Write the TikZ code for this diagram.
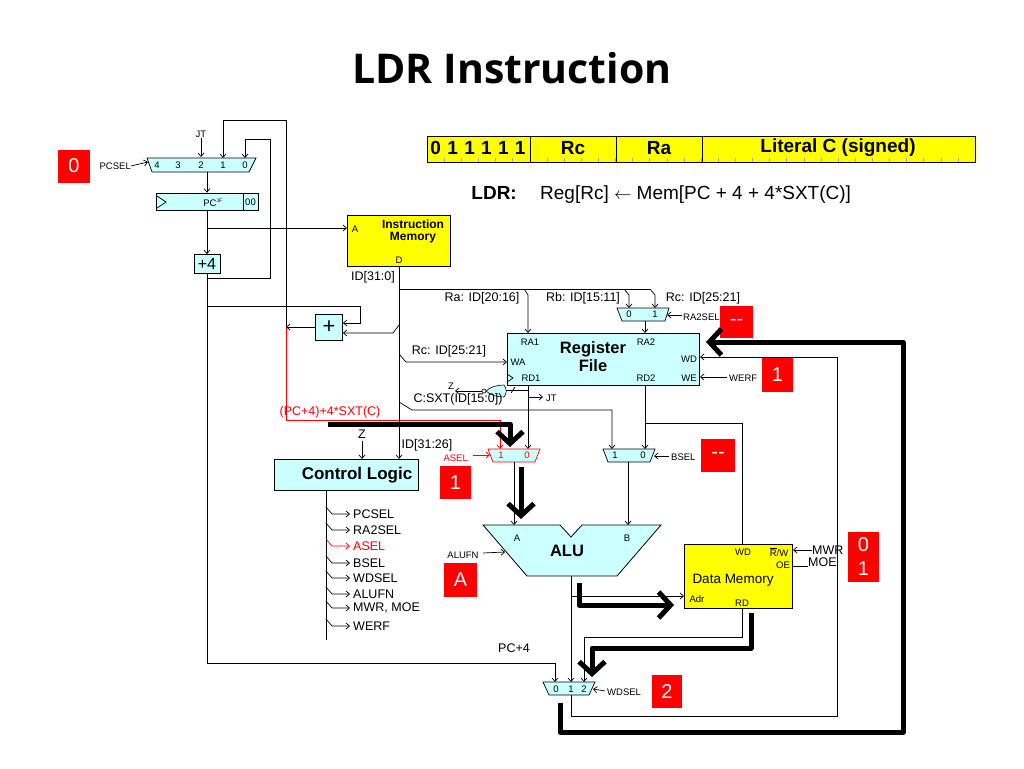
\documentclass[tikz,border=0pt]{standalone}
\usepackage{fontspec}
\setmainfont{Liberation Sans}
\newfontfamily\titlefont{Open Sans}
\usetikzlibrary{arrows.meta}
\definecolor{regcyan}{RGB}{204,255,255}
\definecolor{memyellow}{RGB}{255,255,0}
\definecolor{tagred}{RGB}{255,0,0}
\tikzset{
  wire/.style={line width=0.7pt},
  sig/.style={wire,-{Straight Barb[length=3.5pt,width=6pt]}},
  fatarrow/.style={line width=5pt,line join=round,-{Straight Barb[length=12pt,width=26pt]}},
  mux/.style={draw,line width=0.7pt,fill=regcyan},
  blk/.style={draw,line width=0.8pt,fill=regcyan,inner sep=0pt},
  memblk/.style={draw,line width=0.8pt,fill=memyellow,inner sep=0pt},
  pin/.style={inner sep=0pt,font=\fontsize{9.5}{10}\selectfont},
  lbl/.style={inner sep=0pt,font=\fontsize{12.5}{13}\selectfont},
  field/.style={inner sep=0pt,font=\bfseries\fontsize{19}{20}\selectfont},
  tag/.style={fill=tagred,text=white,inner sep=0pt,minimum width=32pt,minimum height=33pt,font=\fontsize{20}{22}\selectfont},
}
\begin{document}
\begin{tikzpicture}[x=1pt,y=-1pt]
\useasboundingbox (0,0) rectangle (1024,768);

% title and instruction word
\node[font=\titlefont\bfseries\fontsize{41}{44}\selectfont] (title) at (512,68) {LDR Instruction};
\node[memblk,anchor=north west,minimum width=548,minimum height=26] (word) at (427,136) {};
\foreach \k in {1,...,31}
  \draw[black!35,line width=0.5pt] (427+\k*17.125,162) -- ++(0,-4);
\foreach \xd in {530,616,702}
  \draw[line width=0.8pt] (\xd,136) -- (\xd,162);
\node[field] (opc) at (478,148) {0\,\,1\,\,1\,\,1\,\,1\,\,1};
\node[field] (frc) at (573,148) {Rc};
\node[field] (fra) at (659,148) {Ra};
\node[field] (flit) at (838,148) {Literal C (signed)};
\node[field,anchor=base east] (ldr) at (517,199) {LDR:};
\node[inner sep=0pt,font=\fontsize{19}{20}\selectfont,anchor=base west] (rtl) at (540,199) {Reg[Rc] \(\leftarrow\) Mem[PC + 4 + 4*SXT(C)]};

% PC select mux
\draw[mux] (147,158) -- (256,158) -- (249,172) -- (152,172) -- cycle;
\foreach \n/\xx in {4/157,3/178,2/201,1/223,0/245}
  \node[pin] (pcin\n) at (\xx,165) {\n};
\node[pin,anchor=east] (pcsel) at (131,166) {PCSEL};
\draw[sig] (pcsel.east) -- (148,162);
\node[tag] (tpcsel) at (74,166) {0};
\node[pin] (jttop) at (201,134) {JT};
\draw[sig] (jttop.south) -- (201,157);

% PC and +4
\node[blk,minimum width=102,minimum height=17] (pc) at (207,201.5) {};
\draw[line width=0.7pt] (243,193) -- (243,210);
\draw[line width=0.7pt] (157,196) -- (166,202) -- (157,208);
\node[pin] (pclbl) at (213,203) {PC\textsuperscript{\tiny JF}};
\node[pin] (pclow) at (250.5,202) {00};
\node[blk,minimum width=26,minimum height=19,font=\fontsize{16}{16}\selectfont] (inc) at (207,264) {+4};
\draw[sig] (207,172) -- (pc.north);
\draw[sig] (pc.south) -- (inc.north);
\draw[sig] (207,228) -- (347,228);
\draw[sig] (inc.south) |- (555,663) -- (555,682);
\draw[sig] (207,278) -| (270,139) -| (245,158);
\draw[sig] (286,327) |- (223,120) -- (223,158);

% branch adder
\node[blk,minimum width=27,minimum height=26,font=\fontsize{22}{22}\selectfont] (adder) at (329,327) {+};
\draw[sig] (207,306) -| (360,323) -- (adder.east |- 0,323);
\draw[sig] (399,325) -- (393,333) -- (adder.east |- 0,333);
\draw[sig] (adder.west) -- (286,327);
\draw[sig,red] (286,327) |- (500,420) -- (500,449);
\node[lbl,red,anchor=south] (offs) at (330,418) {(PC+4)+4*SXT(C)};

% instruction memory
\node[memblk,anchor=north west,minimum width=103,minimum height=51] (imem) at (347,215) {};
\node[pin] (ima) at (355,229) {A};
\node[pin] (imd) at (399,260) {D};
\node[inner sep=0pt,align=center,font=\bfseries\fontsize{12}{12}\selectfont] (imlbl) at (413,231) {Instruction\\Memory};
\node[lbl] (id310) at (373,277) {ID[31:0]};
\draw[sig] (399,266) -- (399,459);

% register address fields
\draw[wire] (399,289) -- (650,289);
\draw[sig] (524,289) -- (528,295) -- (528,333);
\draw[sig] (624,289) -- (629,295) -- (629,308);
\draw[sig] (650,289) -- (655,295) -- (655,308);
\node[lbl] (ralbl) at (482,298) {Ra: ID[20:16]};
\node[lbl] (rblbl) at (583,298) {Rb: ID[15:11]};
\node[lbl] (rclbl) at (703,298) {Rc: ID[25:21]};
\draw[mux] (617,308) -- (669,308) -- (665,321) -- (622,321) -- cycle;
\node[pin] (ra2in0) at (629,314.5) {0};
\node[pin] (ra2in1) at (655,314.5) {1};
\node[pin,anchor=west] (ra2sel) at (683,317) {RA2SEL};
\draw[sig] (682,315) -- (667,315);
\draw[sig] (645,321) -- (645,333);
\node[tag,minimum width=33,minimum height=32] (tra2) at (736.5,322) {-{}-};

% register file
\node[blk,anchor=north west,minimum width=192,minimum height=52] (regs) at (507,333) {};
\draw[line width=0.7pt] (507,374) -- (513,378) -- (507,382);
\node[inner sep=0pt,align=center,font=\bfseries\fontsize{16.5}{18}\selectfont] (rflbl) at (593,357) {Register\\File};
\node[pin] (ra1) at (530,342) {RA1};
\node[pin] (ra2) at (646,342) {RA2};
\node[pin] (wa) at (518,362) {WA};
\node[pin] (wd) at (689,359) {WD};
\node[pin] (rd1) at (531,378) {RD1};
\node[pin] (rd2) at (646,378) {RD2};
\node[pin] (we) at (689,378) {WE};
\draw[sig] (399,354) -- (406,362) -- (507,362);
\node[lbl] (rcwa) at (449,351) {Rc: ID[25:21]};
\node[pin,anchor=west] (werf) at (729,378) {WERF};
\draw[sig] (727,377) -- (700,377);
\node[tag,minimum width=31,minimum height=34] (twe) at (777.5,375) {1};

% Z gate, JT and literal
\draw[wire] (528,390) -- (506,390);
\draw[wire] (515,387) -- (511,393);
\draw[fill=regcyan,line width=0.6pt] (504,385) .. controls (497,385) and (490,387) .. (486,391)
  .. controls (490,395) and (497,397) .. (504,397) .. controls (507,393) and (507,389) .. (504,385) -- cycle;
\draw[fill=white,line width=0.6pt] (484,391) circle (2);
\draw[sig] (482,391) -- (455,391);
\node[pin] (zout) at (451,386) {Z};
\draw[sig] (528,397) -- (543,397);
\node[pin,anchor=west] (jtout) at (546,398) {JT};
\draw[sig] (399,402) -- (412,410) -| (612,449);
\node[lbl] (sxt) at (458,399) {C:SXT(ID[15:0])};

% operand muxes
\draw[sig] (528,385) -- (528,449);
\draw[mux,draw=red] (488,449) -- (540,449) -- (535,462) -- (493,462) -- cycle;
\node[pin,red] (asin1) at (501,455.5) {1};
\node[pin,red] (asin0) at (527,455.5) {0};
\node[pin,red,anchor=east] (asel) at (468,458) {ASEL};
\draw[sig,red] (473,455) -- (490,455);
\node[tag,minimum width=31] (tasel) at (455.5,482.5) {1};
\draw[sig] (514,462) -- (514,525);

\draw[sig] (645,385) -- (645,449);
\draw[wire] (645,423) -| (742,544);
\draw[mux] (603,449) -- (655,449) -- (650,462) -- (608,462) -- cycle;
\node[pin] (bsin1) at (615,455.5) {1};
\node[pin] (bsin0) at (643,455.5) {0};
\node[pin,anchor=west] (bsel) at (671,457) {BSEL};
\draw[sig] (669,456) -- (654,456);
\node[tag,minimum width=34] (tbsel) at (718,455.5) {-{}-};
\draw[sig] (628,462) -- (628,525);

% control logic
\node[blk,anchor=north west,minimum width=144,minimum height=31] (ctl) at (274,459) {};
\node[inner sep=0pt,font=\bfseries\fontsize{17}{18}\selectfont] (ctllbl) at (357,475) {Control Logic};
\node[lbl] (zin) at (362,434) {Z};
\draw[sig] (362,441) -- (362,459);
\node[lbl] (id3126) at (427,445) {ID[31:26]};
\draw[wire] (326,490) -- (326,640);
\foreach \yy/\sname in {514/PCSEL,530/RA2SEL,563/BSEL,578/WDSEL,594/ALUFN,608/{MWR, MOE},626/WERF}{
  \draw[sig] (326,\yy-7) -- (332,\yy) -- (350,\yy);
  \node[lbl,anchor=west] at (353,\yy) {\sname};
}
\draw[sig,red] (326,539) -- (332,546) -- (350,546);
\node[lbl,anchor=west,red] (ctlasel) at (353,546) {ASEL};

% ALU
\draw[blk] (483,525) -- (560,525) -- (571,537) -- (582,525) -- (661,525) -- (617,576) -- (527,576) -- cycle;
\node[pin] (alua) at (517,538) {A};
\node[pin] (alub) at (627,538) {B};
\node[inner sep=0pt,font=\bfseries\fontsize{16.5}{18}\selectfont] (alulbl) at (567,551) {ALU};
\node[pin] (alufn) at (463,555) {ALUFN};
\draw[sig] (483,553) -- (505,552);
\node[tag,minimum width=33,minimum height=34] (talufn) at (460.5,580) {A};
\draw[sig] (571,576) -- (571,682);
\draw[sig] (571,596) -- (684,596);

% data memory
\node[memblk,anchor=north west,minimum width=108,minimum height=64] (dmem) at (684,544) {};
\node[pin] (dmwd) at (743,552) {WD};
\node[pin] (dmrw) at (779,552) {$\overline{\mbox{R}}$/W};
\node[pin] (dmoe) at (783,565) {OE};
\node[inner sep=0pt,font=\fontsize{13.5}{14}\selectfont] (dmlbl) at (733,580) {Data Memory};
\node[pin] (dmadr) at (697,599) {Adr};
\node[pin] (dmrd) at (742,603) {RD};
\draw[sig] (812,550) -- (793,550);
\node[lbl,anchor=west] (mwr) at (812,550) {MWR};
\draw[wire] (792,566) -- (808,566);
\node[lbl,anchor=west] (moe) at (808,562) {MOE};
\node[tag,minimum width=31,minimum height=50,align=center,font=\fontsize{20}{24}\selectfont] (tmem) at (863.5,557) {0\\1};
\draw[sig] (742,608) |- (584,637) -- (584,682);

% write-back mux
\draw[mux] (543,682) -- (595,682) -- (589,695) -- (549,695) -- cycle;
\node[pin] (wdin0) at (556,689) {0};
\node[pin] (wdin1) at (571,689) {1};
\node[pin] (wdin2) at (584,689) {2};
\node[pin,anchor=west] (wdsel) at (607,692) {WDSEL};
\draw[sig] (605,691) -- (593,689);
\node[tag,minimum width=30] (twdsel) at (667,691.5) {2};
\node[lbl] (pc4) at (514,648) {PC+4};
\draw[sig] (571,695) -- (571,716) -| (837,357) -- (700,357);

% data flow of LDR
\draw[fatarrow] (328,424) -- (510,424) -- (510,447);
\draw[fatarrow] (521,467) -- (521,519);
\draw[fatarrow] (579,583) -- (579,605) -- (674,605);
\draw[fatarrow] (751,613) -- (751,648) -- (592,648) -- (592,677);
\draw[fatarrow] (560,703) -- (560,732) -- (903,732) -- (903,342) -- (706,342);
\end{tikzpicture}
\end{document}
